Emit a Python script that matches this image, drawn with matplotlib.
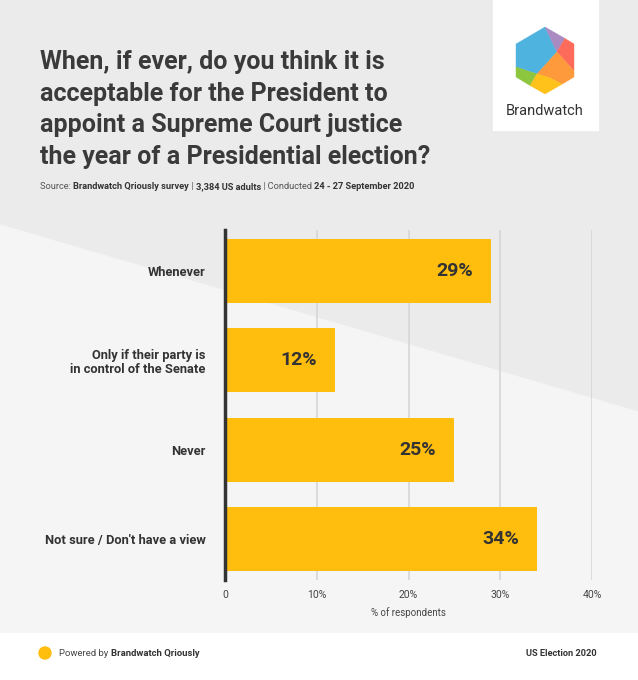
import matplotlib
matplotlib.use('Agg')
import matplotlib.pyplot as plt
from matplotlib.patches import Polygon, Rectangle, Circle

# ---- data ----
categories = ["Whenever", "Only if their party is\nin control of the Senate", "Never",
              "Not sure / Don't have a view"]
values = [29, 12, 25, 34]
xticks = [0, 10, 20, 30, 40]
xtick_labels = ["0", "10%", "20%", "30%", "40%"]
title_lines = ["When, if ever, do you think it is",
               "acceptable for the President to",
               "appoint a Supreme Court justice",
               "the year of a Presidential election?"]
source_parts = [("Source: ", False), ("Brandwatch Qriously survey", True), (" | ", False),
                ("3,384 US adults", True), (" | Conducted ", False), ("24 - 27 September 2020", True)]

plt.rcParams['font.family'] = ['Roboto', 'DejaVu Sans']

BAR = '#FFBD0D'
DARK = '#333333'
W, H = 638, 680
fig = plt.figure(figsize=(W / 100, H / 100), dpi=100)
fig.patch.set_facecolor('#ececec')

bg = fig.add_axes([0, 0, 1, 1])
bg.set_xlim(0, W)
bg.set_ylim(H, 0)
bg.axis('off')
bg.add_patch(Rectangle((0, 0), W, H, color='#ebebeb', zorder=0))
bg.add_patch(Polygon([(0, 225), (638, 412), (638, 633), (0, 633)], color='#f5f5f5', zorder=1))
bg.add_patch(Rectangle((0, 633), W, H - 633, color='white', zorder=2))

# logo box
bg.add_patch(Rectangle((493, 0), 105, 130, color='white', zorder=2))
T, UR, LR, B, LL, UL = (545, 27), (574, 44), (574, 77), (545, 94), (516, 77), (516, 44)
P1, P2, P3 = (537, 74), (557, 52), (550, 78)
Etop, Eleft, Eright, Ell, Elr = (565, 38.5), (516, 67), (574, 71), (530, 85.5), (562, 84.2)
pieces = [
    ([T, UL, Eleft, P1, P2], '#4FB3DF'),
    ([T, Etop, P2], '#A98BC2'),
    ([Etop, UR, Eright, P2], '#FF6B5A'),
    ([P2, Eright, LR, Elr, P3, P1], '#FF9A3C'),
    ([Eleft, LL, Ell, P1], '#8CC63F'),
    ([P1, Ell, B, Elr, P3], '#FFC21A'),
]
for pts, c in pieces:
    bg.add_patch(Polygon(pts, closed=True, color=c, zorder=3, lw=0.3, ec=c))
bg.text(545, 111, "Brandwatch", ha='center', va='center', fontsize=10.5, color=DARK, zorder=4)

# title
for i, line in enumerate(title_lines):
    bg.text(40, 69 + 31.6 * i, line, fontsize=18, fontweight='bold', color='#3a3a3a',
            va='baseline', ha='left', zorder=4)

# source line
prev = None
for txt, bold in source_parts:
    kw = dict(fontsize=6.7, fontweight='bold' if bold else 'normal',
              color=DARK if bold else '#555555', zorder=4)
    if prev is None:
        prev = bg.text(40, 189, txt, va='baseline', ha='left', **kw)
    else:
        prev = bg.annotate(txt, xy=(1, 0), xycoords=prev, va='bottom', ha='left', **kw)

# footer
bg.add_patch(Circle((45, 653), 6, color=BAR, zorder=4))
t = bg.text(59, 653, "Powered by ", va='center', ha='left', fontsize=6.8, color='#444444', zorder=4)
bg.annotate("Brandwatch Qriously", xy=(1, 0), xycoords=t, va='bottom', ha='left',
            fontsize=6.8, fontweight='bold', color=DARK, zorder=4)
bg.text(597, 653, "US Election 2020", va='center', ha='right', fontsize=6.7,
        fontweight='bold', color=DARK, zorder=4)

# ---- main chart ----
ax = fig.add_axes([225 / W, 1 - 580 / H, (592 - 225) / W, (580 - 230) / H])
ax.patch.set_alpha(0)
ypos = list(range(len(categories)))
ax.barh(ypos, values, height=0.72, color=BAR, zorder=3)
ax.set_xlim(0, 40)
ax.set_ylim(3.455, -0.455)
ax.set_xticks(xticks, xtick_labels)
ax.set_yticks(ypos, categories)
ax.xaxis.grid(True, color='#d6d6d6', lw=1.2, zorder=0)
ax.set_axisbelow(True)
for s in ['top', 'right', 'bottom']:
    ax.spines[s].set_visible(False)
ax.spines['left'].set_color(DARK)
ax.spines['left'].set_linewidth(2.5)
ax.spines['left'].set_zorder(5)
ax.tick_params(axis='x', length=0, pad=7, labelsize=7.5, labelcolor='#444444')
ax.tick_params(axis='y', length=0, pad=14, labelsize=9.3, labelcolor=DARK)
for lbl in ax.get_yticklabels():
    lbl.set_fontweight('bold')
    lbl.set_linespacing(1.15)
ax.set_xlabel("% of respondents", fontsize=7, color='#444444', labelpad=5)

for i, v in enumerate(values):
    ax.annotate(f"{v}%", xy=(v, i), xytext=(-18, 0), textcoords='offset pixels',
                ha='right', va='center', fontsize=14, fontweight='bold', color=DARK, zorder=6)

fig.savefig('out.png', dpi=100, facecolor=fig.get_facecolor())
